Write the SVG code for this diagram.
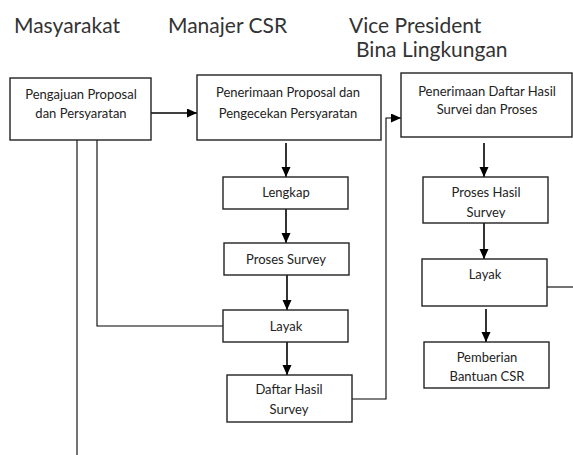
<svg xmlns="http://www.w3.org/2000/svg" width="573" height="455" viewBox="0 0 573 455">
<style>
.hdr{font-family:Lato,"Liberation Sans",sans-serif;font-size:21px;fill:#333}
.lbl{font-family:Lato,"Liberation Sans",sans-serif;font-size:13px;fill:#222;text-anchor:middle}
.box{fill:#fff;stroke:#222;stroke-width:1.4}
.con{fill:none;stroke:#000;stroke-width:1.6}
.thin{fill:none;stroke:#000;stroke-width:1.1}
</style>
<defs>
<marker id="ah" markerUnits="userSpaceOnUse" markerWidth="10" markerHeight="10" refX="10" refY="4.5" orient="auto">
<path d="M0,0 L10,4.5 L0,9 z" fill="#000"/>
</marker>
<clipPath id="clipA"><rect x="227" y="375" width="125" height="41"/></clipPath>
<clipPath id="clipB"><rect x="423" y="177" width="125" height="41"/></clipPath>
</defs>
<rect width="573" height="455" fill="#fff"/>
<g id="headers">
<text class="hdr" x="14" y="33">Masyarakat</text>
<text class="hdr" x="168" y="33">Manajer CSR</text>
<text class="hdr" x="349" y="33">Vice President</text>
<text class="hdr" x="356" y="57">Bina Lingkungan</text>
</g>
<g id="connectors">
<line class="con" x1="151" y1="113" x2="197" y2="113" marker-end="url(#ah)"/>
<line class="con" x1="286" y1="143" x2="286" y2="177" marker-end="url(#ah)"/>
<line class="con" x1="286" y1="209" x2="286" y2="243" marker-end="url(#ah)"/>
<line class="con" x1="287" y1="275" x2="287" y2="310" marker-end="url(#ah)"/>
<line class="con" x1="287" y1="342" x2="287" y2="375" marker-end="url(#ah)"/>
<polyline class="thin" points="352,399 386,399 386,118 401,118" marker-end="url(#ah)"/>
<line class="con" x1="484" y1="143" x2="484" y2="177" marker-end="url(#ah)"/>
<line class="con" x1="484" y1="223" x2="484" y2="259" marker-end="url(#ah)"/>
<line class="con" x1="486" y1="309" x2="486" y2="342" marker-end="url(#ah)"/>
<line class="thin" x1="547" y1="287" x2="573" y2="287"/>
<line class="thin" x1="77" y1="140" x2="77" y2="455"/>
<polyline class="thin" points="97,140 97,326 223,326"/>
</g>
<g id="n1"><rect class="box" x="10" y="78" width="141" height="62"/>
<text class="lbl" x="81" y="99">Pengajuan Proposal</text><text class="lbl" x="81" y="118">dan Persyaratan</text></g>
<g id="n2"><rect class="box" x="197" y="75" width="184" height="65"/>
<text class="lbl" x="288" y="97">Penerimaan Proposal dan</text><text class="lbl" x="288" y="118">Pengecekan Persyaratan</text></g>
<g id="n3"><rect class="box" x="223" y="177" width="125" height="32"/>
<text class="lbl" x="286" y="197">Lengkap</text></g>
<g id="n4"><rect class="box" x="224" y="243" width="125" height="32"/>
<text class="lbl" x="286" y="264">Proses Survey</text></g>
<g id="n5"><rect class="box" x="223" y="310" width="125" height="32"/>
<text class="lbl" x="286" y="331">Layak</text></g>
<g id="n6"><rect class="box" x="227" y="375" width="125" height="47"/>
<text class="lbl" x="289" y="394">Daftar Hasil</text><text class="lbl" x="289" y="414" clip-path="url(#clipA)">Survey</text></g>
<g id="n7"><rect class="box" x="401" y="73" width="171" height="64"/>
<text class="lbl" x="487" y="96">Penerimaan Daftar Hasil</text><text class="lbl" x="487" y="114">Survei dan Proses</text></g>
<g id="n8"><rect class="box" x="423" y="177" width="125" height="46"/>
<text class="lbl" x="486" y="197">Proses Hasil</text><text class="lbl" x="486" y="217" clip-path="url(#clipB)">Survey</text></g>
<g id="n9"><rect class="box" x="422" y="259" width="125" height="47"/>
<text class="lbl" x="485" y="279">Layak</text></g>
<g id="n10"><rect class="box" x="424" y="342" width="125" height="46"/>
<text class="lbl" x="487" y="362">Pemberian</text><text class="lbl" x="487" y="381">Bantuan CSR</text></g>
</svg>
